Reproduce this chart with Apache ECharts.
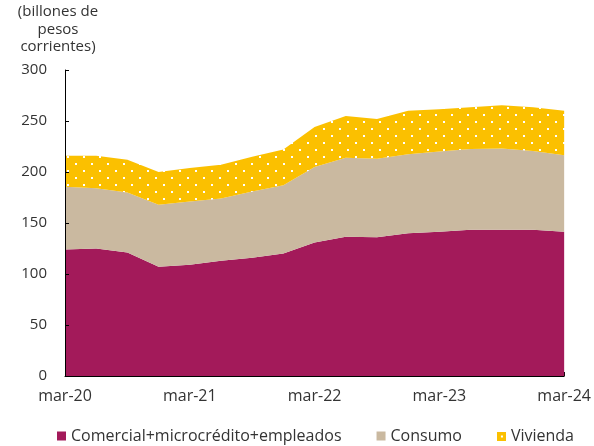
<!DOCTYPE html>
<html>
<head>
<meta charset="utf-8">
<script src="https://cdn.jsdelivr.net/npm/echarts@6/dist/echarts.min.js"></script>
<style>
  html, body { margin: 0; padding: 0; background: #fff; }
  #chart { width: 594px; height: 446px; }
</style>
</head>
<body>
<div id="chart"></div>
<script>
// trimestres mar-20 .. mar-24
var categories = [
  "mar-20", "jun-20", "sep-20", "dic-20",
  "mar-21", "jun-21", "sep-21", "dic-21",
  "mar-22", "jun-22", "sep-22", "dic-22",
  "mar-23", "jun-23", "sep-23", "dic-23",
  "mar-24"
];
var comercial = [124, 125, 121, 107, 109, 113, 116, 120, 131, 136.5, 136, 140, 141.5, 143.5, 143.5, 143.5, 141.5];
var consumo = [61.5, 59, 59, 61, 62, 61, 65, 67, 74, 77.5, 77, 77.5, 78.5, 79, 79.5, 77, 75];
var vivienda = [30.5, 32, 32, 32, 33, 33, 34, 35, 39, 41, 39, 42.5, 41.5, 41, 42.5, 43, 43.5];
var yTicks = [0, 50, 100, 150, 200, 250, 300];

var font = "'Open Sans', 'Noto Sans', sans-serif";
var textColor = "#333";

// relleno amarillo con puntos blancos
function dotPattern() {
  var c = document.createElement("canvas");
  c.width = 16;
  c.height = 14;
  var ctx = c.getContext("2d");
  ctx.fillStyle = "#FBC000";
  ctx.fillRect(0, 0, 16, 14);
  ctx.fillStyle = "#fff";
  ctx.fillRect(3, 2, 2, 2);
  ctx.fillRect(11, 9, 2, 2);
  return c;
}
var pattern = { image: dotPattern(), repeat: "repeat" };

// icono de leyenda para vivienda
function viviendaIcon() {
  var c = document.createElement("canvas");
  c.width = 9;
  c.height = 9;
  var ctx = c.getContext("2d");
  ctx.fillStyle = "#FBC000";
  ctx.fillRect(0, 0, 9, 9);
  ctx.fillStyle = "#fff";
  ctx.fillRect(4, 4, 2, 2);
  return "image://" + c.toDataURL();
}

var chart = echarts.init(document.getElementById("chart"));

function areaSeries(name, data, color, fill) {
  return {
    name: name,
    type: "line",
    stack: "total",
    data: data,
    showSymbol: false,
    symbol: "none",
    lineStyle: { width: 0 },
    itemStyle: { color: color },
    areaStyle: { color: fill || color, opacity: 1 },
    emphasis: { disabled: true }
  };
}

chart.setOption({
  backgroundColor: "#fff",
  animation: false,
  title: {
    text: "(billones de\npesos\ncorrientes)",
    left: 58,
    top: 3,
    padding: 0,
    textAlign: "center",
    textStyle: {
      fontFamily: font,
      fontSize: 15,
      fontWeight: "normal",
      color: textColor,
      lineHeight: 17.5
    }
  },
  grid: { left: 65, right: 26, top: 70, bottom: 70, containLabel: false },
  legend: {
    top: 423,
    left: 52,
    icon: "rect",
    itemWidth: 9,
    itemHeight: 9,
    itemGap: 35,
    textStyle: { fontFamily: font, fontSize: 16, color: textColor },
    data: [
      { name: "Comercial+microcrédito+empleados" },
      { name: "Consumo" },
      { name: "Vivienda", icon: viviendaIcon() }
    ]
  },
  xAxis: {
    type: "category",
    boundaryGap: false,
    data: categories,
    axisLine: { lineStyle: { color: "#000", width: 1 } },
    axisTick: { inside: true, interval: 3, length: 4, lineStyle: { color: "#000" } },
    axisLabel: {
      interval: 3,
      margin: 12,
      fontFamily: font,
      fontSize: 16,
      color: textColor,
      showMaxLabel: true
    },
    splitLine: { show: false }
  },
  yAxis: {
    type: "value",
    min: yTicks[0],
    max: yTicks[yTicks.length - 1],
    interval: 50,
    axisLine: { show: true, lineStyle: { color: "#000", width: 1 } },
    axisTick: { show: true, inside: true, length: 4, lineStyle: { color: "#000" } },
    axisLabel: { margin: 18, fontFamily: font, fontSize: 15, color: textColor },
    splitLine: { show: false },
    z: 10
  },
  series: [
    areaSeries("Comercial+microcrédito+empleados", comercial, "#A31A5A"),
    areaSeries("Consumo", consumo, "#CAB9A0"),
    areaSeries("Vivienda", vivienda, "#FBC000", pattern)
  ]
});
</script>
</body>
</html>
